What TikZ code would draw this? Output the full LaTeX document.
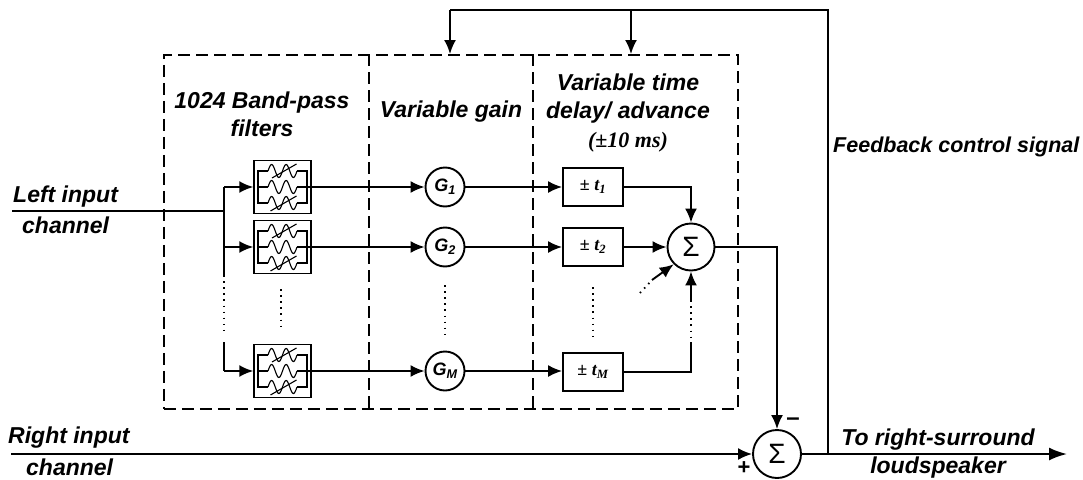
\documentclass[tikz,border=0pt]{standalone}
\usepackage{fontspec}
\setmainfont{Liberation Sans}
\newfontfamily\tms{Liberation Serif}
\usetikzlibrary{arrows.meta,calc}
\tikzset{
  x=1pt,y=-1pt,
  wire/.style={line width=1.9pt,-{Latex[length=14pt,width=12pt]}},
  plain/.style={line width=1.9pt},
  dots/.style={line width=1.8pt,dash pattern=on 1.5pt off 4.6pt},
  dashbox/.style={draw,line width=1.7pt,dash pattern=on 12pt off 6pt},
  lab/.style={font=\fontsize{23}{28}\selectfont\bfseries\itshape,align=center,inner sep=0pt},
  filt/.style={draw,line width=1.5pt,minimum width=57pt,minimum height=53pt,inner sep=0pt},
  gain/.style={draw,circle,line width=1.9pt,minimum size=39pt,inner sep=0pt,font=\fontsize{18}{20}\selectfont\bfseries\itshape},
  tbox/.style={draw,line width=1.8pt,minimum width=60pt,minimum height=38pt,inner sep=0pt,font=\fontsize{18}{20}\selectfont\tms\bfseries},
  sumn/.style={draw,circle,line width=1.9pt,minimum size=47pt,inner sep=0pt,font=\fontsize{28}{30}\selectfont},
}
\newcommand{\wig}[2]{% center x, y
  \draw[line width=1.1pt,domain=0:1,samples=60,smooth,variable=\t]
    plot ({#1-14.5+29*\t},{#2-6.5*sin(720*\t)});
}
\newcommand{\filtdraw}[2]{%
  \begin{scope}[shift={(#1,#2)}]
    \draw[line width=1.1pt] (-14.5,-16)--(-24.5,-16)--(-24.5,16)--(-14.5,16);
    \draw[line width=1.1pt] (14.5,-16)--(24.5,-16)--(24.5,16)--(14.5,16);
    \draw[line width=1.1pt] (-24.5,0)--(-14.5,0);
    \wig{0}{-16}\wig{0}{0}\wig{0}{16}
    \draw[line width=1.1pt] (-10.5,-9)--(14,-23);
    \draw[line width=1.1pt] (-12,24)--(14,9);
  \end{scope}
}
\newcommand{\sg}{Σ}
\begin{document}
\begin{tikzpicture}
\useasboundingbox (0,0) rectangle (1083,479);
% dashed frames
\node[dashbox,minimum width=574pt,minimum height=354pt,anchor=north west] (frame) at (163,54) {};
\coordinate (v1t) at (369,54); \coordinate (v1b) at (369,408);
\coordinate (v2t) at (533,54); \coordinate (v2b) at (533,408);
\draw[dashbox] (v1t)--(v1b);
\draw[dashbox] (v2t)--(v2b);
% filters
\node[filt] (f1) at (282.5,187) {};
\node[filt] (f2) at (282.5,247) {};
\node[filt] (f3) at (282.5,371) {};
\filtdraw{282.5}{187}\filtdraw{282.5}{247}\filtdraw{282.5}{371}
% gains
\node[gain] (g1) at (445,187) {G\textsubscript{1}};
\node[gain] (g2) at (445,247) {G\textsubscript{2}};
\node[gain] (g3) at (445,371) {G\textsubscript{M}};
% delays
\node[tbox] (t1) at (593,187) {± \itshape t\textsubscript{1}};
\node[tbox] (t2) at (593,247) {± \itshape t\textsubscript{2}};
\node[tbox] (t3) at (593,372) {± \itshape t\textsubscript{M}};
% sums
\node[sumn] (s1) at (691,247) {\sg};
\node[sumn,minimum size=48pt] (s2) at (777,454) {\sg};
% coordinates
\coordinate (lin) at (12,211);
\coordinate (lj) at (224,211);
\coordinate (j1) at (224,187);
\coordinate (j2) at (224,247);
\coordinate (j3) at (224,371);
\coordinate (j2e) at (224,275);
\coordinate (j2f) at (224,334);
\coordinate (j3s) at (224,342);
\coordinate (rin) at (11,454);
\coordinate (out) at (1067,454);
\coordinate (fbt) at (828,10);
\coordinate (fbl) at (450,10);
\coordinate (fbm) at (631,10);
\coordinate (fbj) at (828,454);
\coordinate (fa) at (450,54);
\coordinate (fb) at (631,54);
% input
\draw[plain] (lin)--(lj);
\draw[plain] (j1)--(j2e);
\draw[plain] (j3s)--(j3);
\draw[dots] (j2e)--(j2f);
\draw[wire] (j1)--(f1.west);
\draw[wire] (j2)--(f2.west);
\draw[wire] (j3)--(f3.west);
% dots in columns
\coordinate (c1a) at (281,289); \coordinate (c1b) at (281,329);
\draw[dots] (c1a)--(c1b);
\coordinate (c2a) at (445,285); \coordinate (c2b) at (445,334);
\draw[dots] (c2a)--(c2b);
\coordinate (c3a) at (593,287); \coordinate (c3b) at (593,337);
\draw[dots] (c3a)--(c3b);
% filter to gain
\draw[plain] ($(f1.center)+(14.5,0)$)--(f1.east);
\draw[plain] ($(f2.center)+(14.5,0)$)--(f2.east);
\draw[plain] ($(f3.center)+(14.5,0)$)--(f3.east);
\draw[wire] (f1.east)--(g1.west);
\draw[wire] (f2.east)--(g2.west);
\draw[wire] (f3.east)--(g3.west);
% gain to delay
\draw[wire] (g1.east)--(t1.west);
\draw[wire] (g2.east)--(t2.west);
\draw[wire] (g3.east)--(g3.east-|t3.west);
% delay to sum
\draw[wire] (t1.east)-|(s1.north);
\draw[wire] (t2.east)--(s1.west);
\coordinate (dd0) at (640,293); \coordinate (dd1) at (652,280);
\draw[dots] (dd0)--(dd1);
\draw[wire] (dd1)--(s1.225);
\coordinate (u1) at (691,300); \coordinate (u2) at (691,338); \coordinate (u3) at (691,342);
\draw[wire] (u1)--(s1.south);
\draw[dots] (u1)--(u2);
\draw[plain] (t3.east)-|(u3);
% sum to sum
\draw[wire] (s1.east)-|(s2.north);
% right input, output
\draw[wire] (rin)--(s2.west);
\draw[line width=2pt,-{Latex[length=18pt,width=13pt]}] (s2.east)--(out);
% feedback
\draw[plain] (fbj)--(fbt)--(fbl);
\draw[wire] (fbl)--(fa);
\draw[wire] (fbm)--(fb);
% labels
\node[lab] (l1) at (262,114) {1024 Band-pass\\filters};
\node[lab] (l2) at (451,112) {Variable gain};
\node[lab] (l3) at (628,99) {Variable time\\delay/ advance};
\node[lab,font=\fontsize{22}{24}\selectfont\tms\bfseries\itshape] (l4) at (628,142) {(±10 ms)};
\node[lab,anchor=west] (l5) at (13,197) {Left input};
\node[lab,anchor=west] (l6) at (22,225) {channel};
\node[lab,anchor=west] (l7) at (8,438) {Right input};
\node[lab,anchor=west] (l8) at (26,467) {channel};
\node[lab,anchor=west,font=\fontsize{21.5}{26}\selectfont\bfseries\itshape] (l9) at (833,147) {Feedback control signal};
\node[lab] (l10) at (938,440) {To right-surround};
\node[lab] (l11) at (938,468) {loudspeaker};
\node[font=\fontsize{24}{24}\selectfont\bfseries,inner sep=0pt] (mi) at (793,422) {–};
\node[font=\fontsize{22}{22}\selectfont\bfseries,inner sep=0pt] (pl) at (744,468) {+};
\end{tikzpicture}
\end{document}
